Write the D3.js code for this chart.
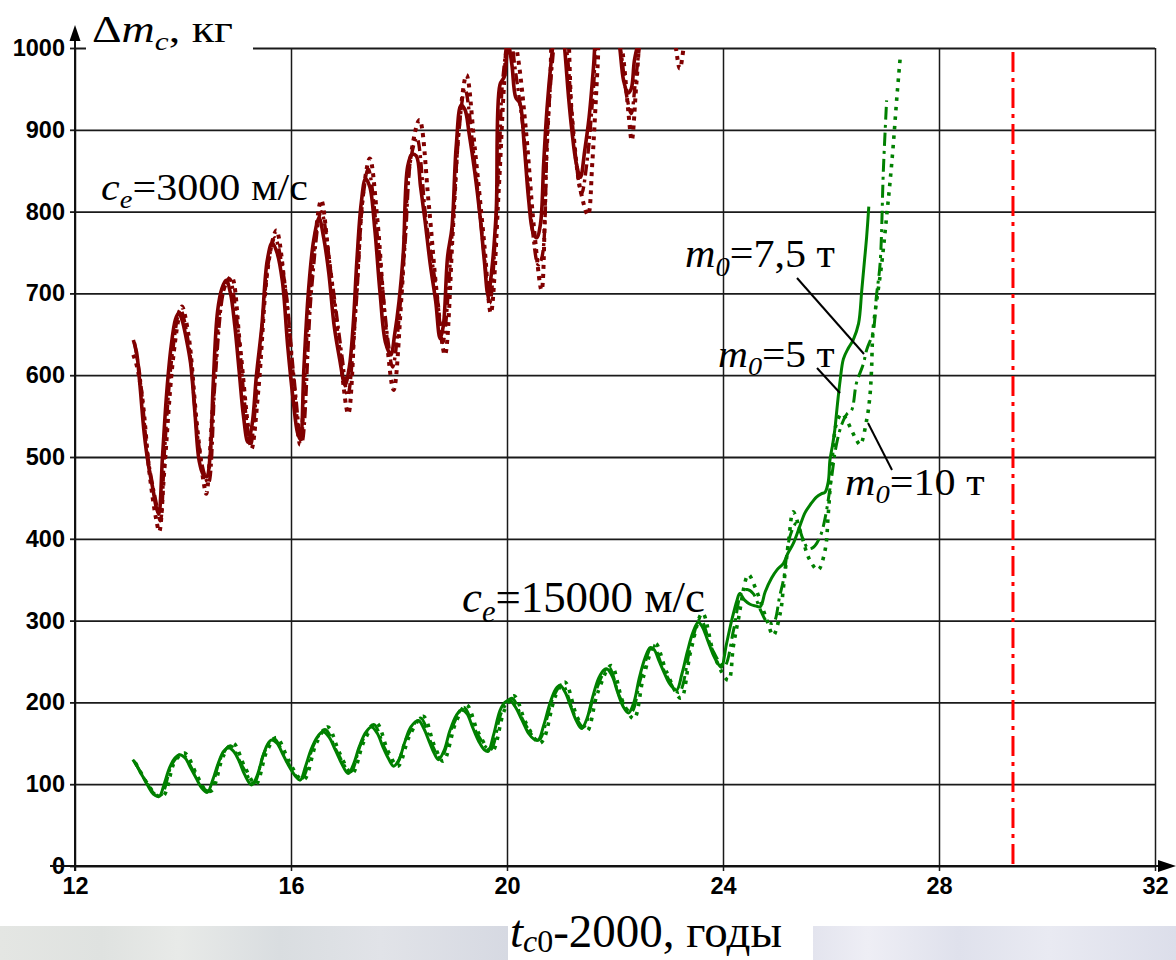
<!DOCTYPE html>
<html><head><meta charset="utf-8">
<script src="https://cdn.jsdelivr.net/npm/d3@7"></script>
<style>body{margin:0;background:#fff}svg{display:block}</style>
</head><body>
<svg id="c" width="1176" height="960"></svg>
<script>
// ---------- data ----------
const xTicks = [12, 16, 20, 24, 28, 32];
const yTicks = [0, 100, 200, 300, 400, 500, 600, 700, 800, 900, 1000];
const limitYear = 29.37;

// c_e = 3000 m/s, m0 = 5 t (solid)
const red5 = [[13.08,643],[13.14,628],[13.2,590],[13.28,530],[13.36,490],[13.44,462],[13.5,440],[13.55,430],[13.62,500],[13.7,580],[13.78,635],[13.86,668],[13.92,676],[13.98,668],[14.06,645],[14.14,615],[14.22,555],[14.3,495],[14.38,478],[14.44,476],[14.5,500],[14.56,590],[14.64,678],[14.72,706],[14.8,716],[14.88,700],[14.96,660],[15.04,605],[15.12,550],[15.2,518],[15.28,540],[15.36,600],[15.46,660],[15.56,740],[15.65,762],[15.74,750],[15.84,715],[15.94,635],[16.04,570],[16.12,530],[16.17,522],[16.24,610],[16.32,700],[16.42,765],[16.52,792],[16.6,770],[16.7,725],[16.8,660],[16.9,620],[17.0,588],[17.08,610],[17.15,660],[17.22,740],[17.3,810],[17.38,840],[17.46,830],[17.55,780],[17.65,700],[17.75,640],[17.85,625],[17.92,650],[18.0,690],[18.08,750],[18.16,855],[18.24,870],[18.32,868],[18.4,830],[18.48,790],[18.58,735],[18.68,690],[18.76,645],[18.82,660],[18.9,745],[18.98,780],[19.06,880],[19.15,930],[19.22,925],[19.3,895],[19.4,850],[19.5,795],[19.58,740],[19.65,698],[19.72,730],[19.8,800],[19.87,955],[19.95,965],[20.02,1005],[20.09,980],[20.16,940],[20.24,932],[20.32,880],[20.4,815],[20.48,775],[20.55,768],[20.62,785],[20.68,860],[20.74,925],[20.82,985],[20.9,1030],[20.98,1050],[21.06,1005],[21.14,940],[21.2,900],[21.28,860],[21.36,842],[21.44,875],[21.52,915],[21.6,975],[21.66,1030],[21.8,1080],[21.95,1060],[22.08,1005],[22.16,960],[22.24,945],[22.3,950],[22.36,985],[22.44,1010],[22.52,1040]];
// c_e = 3000 m/s, m0 = 7.5 t (dash-dot)
const red75 = [[13.1,640],[13.2,600],[13.35,500],[13.5,445],[13.58,422],[13.66,510],[13.8,625],[13.95,680],[14.1,640],[14.28,520],[14.4,478],[14.47,468],[14.6,600],[14.76,705],[14.86,718],[15.0,665],[15.15,560],[15.25,515],[15.4,610],[15.6,745],[15.7,768],[15.88,715],[16.05,600],[16.2,518],[16.38,705],[16.56,800],[16.75,720],[16.95,620],[17.05,575],[17.2,680],[17.33,815],[17.43,852],[17.6,770],[17.8,640],[17.88,610],[18.1,750],[18.22,865],[18.33,890],[18.5,790],[18.7,700],[18.81,640],[19.0,790],[19.12,905],[19.22,950],[19.4,860],[19.58,745],[19.68,688],[19.85,860],[19.92,960],[20.05,1020],[20.15,975],[20.3,900],[20.45,790],[20.58,735],[20.65,745],[20.75,900],[20.85,990],[20.95,1050],[21.1,1000],[21.25,880],[21.38,822],[21.48,860],[21.6,950],[21.7,1040],[21.9,1070],[22.1,1000],[22.22,940],[22.3,920],[22.38,960],[22.47,1010],[22.55,1040]];
// c_e = 3000 m/s, m0 = 10 t (dotted)
const red10 = [[13.08,625],[13.15,610],[13.25,570],[13.38,480],[13.5,425],[13.56,409],[13.65,480],[13.8,610],[13.92,670],[13.98,684],[14.1,650],[14.25,545],[14.38,470],[14.43,455],[14.55,560],[14.7,690],[14.82,715],[14.9,720],[15.05,640],[15.2,540],[15.27,510],[15.4,585],[15.55,720],[15.66,765],[15.73,777],[15.9,700],[16.05,590],[16.17,515],[16.3,660],[16.45,770],[16.56,814],[16.7,745],[16.9,630],[17.06,553],[17.2,690],[17.35,830],[17.46,865],[17.6,790],[17.75,660],[17.9,582],[18.05,700],[18.2,860],[18.38,912],[18.55,810],[18.7,700],[18.85,625],[19.0,780],[19.12,910],[19.25,967],[19.4,880],[19.58,760],[19.7,676],[19.85,830],[19.95,960],[20.05,1040],[20.2,990],[20.35,900],[20.5,780],[20.64,704],[20.72,850],[20.8,960],[20.88,1040],[21.05,1060],[21.2,920],[21.35,830],[21.5,796],[21.58,860],[21.68,980],[21.75,1060],[21.95,1080],[22.15,990],[22.25,920],[22.31,887],[22.4,960],[22.5,1030],[22.8,1090],[23.1,1010],[23.2,975],[23.27,1000],[23.35,1040]];

// c_e = 15000 m/s, m0 = 5 t (solid)
const green5 = [[13.07,130],[13.15,122],[13.25,110],[13.35,98],[13.45,88],[13.56,85],[13.65,100],[13.75,120],[13.85,132],[13.94,136],[14.04,132],[14.14,120],[14.24,108],[14.34,96],[14.45,90],[14.55,105],[14.65,125],[14.75,140],[14.84,145],[14.94,140],[15.04,128],[15.14,112],[15.27,99],[15.37,110],[15.47,132],[15.56,148],[15.64,154],[15.74,150],[15.86,135],[15.98,120],[16.08,110],[16.17,105],[16.27,122],[16.37,142],[16.48,157],[16.59,164],[16.7,158],[16.82,142],[16.94,125],[17.06,113],[17.16,125],[17.26,145],[17.38,163],[17.49,170],[17.6,162],[17.7,146],[17.8,132],[17.9,122],[18.0,130],[18.1,150],[18.22,170],[18.36,178],[18.46,168],[18.56,152],[18.65,138],[18.73,130],[18.84,142],[18.94,165],[19.06,184],[19.16,191],[19.26,186],[19.36,170],[19.48,152],[19.58,142],[19.65,140],[19.75,160],[19.87,190],[19.96,200],[20.05,203],[20.15,195],[20.28,178],[20.4,162],[20.5,155],[20.58,154],[20.68,172],[20.8,200],[20.9,216],[20.98,221],[21.08,212],[21.18,195],[21.28,178],[21.38,168],[21.48,180],[21.58,205],[21.7,230],[21.8,240],[21.85,241],[21.95,232],[22.05,212],[22.15,195],[22.25,187],[22.35,200],[22.45,230],[22.56,255],[22.65,267],[22.72,265],[22.82,250],[22.92,235],[23.02,222],[23.14,215],[23.24,235],[23.34,262],[23.44,285],[23.54,298],[23.62,292],[23.72,275],[23.82,258],[23.9,248],[23.97,243],[24.06,270],[24.16,300],[24.26,325],[24.31,333],[24.4,325],[24.5,320],[24.6,318],[24.69,317],[24.78,335],[24.9,352],[25.0,362],[25.12,370],[25.2,382],[25.3,394],[25.42,415],[25.52,432],[25.62,442],[25.73,451],[25.82,455],[25.89,457],[25.95,470],[25.98,496],[26.03,515],[26.07,533],[26.12,565],[26.17,594],[26.23,620],[26.32,633],[26.41,643],[26.51,663],[26.57,704],[26.62,740],[26.66,769],[26.7,806]];
// c_e = 15000 m/s, m0 = 7.5 t (dash-dot)
const green75 = [[13.1,128],[13.3,105],[13.48,88],[13.6,87],[13.8,125],[13.98,137],[14.2,115],[14.38,95],[14.49,92],[14.7,132],[14.88,147],[15.1,122],[15.31,101],[15.5,138],[15.68,156],[15.9,132],[16.1,110],[16.21,107],[16.42,148],[16.63,167],[16.85,140],[17.1,115],[17.3,150],[17.53,173],[17.75,142],[17.94,124],[18.15,158],[18.4,181],[18.6,150],[18.77,132],[19.0,172],[19.2,194],[19.42,165],[19.69,142],[19.9,188],[20.09,205],[20.3,178],[20.55,154],[20.62,156],[20.85,205],[21.02,222],[21.25,185],[21.42,170],[21.62,210],[21.88,243],[22.1,205],[22.3,188],[22.48,230],[22.7,270],[22.9,240],[23.18,212],[23.4,268],[23.58,302],[23.8,265],[24.02,244],[24.2,290],[24.35,335],[24.45,338],[24.56,333],[24.7,312],[24.81,299],[24.93,297],[25.05,330],[25.12,350],[25.24,403],[25.36,419],[25.48,400],[25.58,388],[25.68,390],[25.8,403],[25.89,425],[26.0,470],[26.1,515],[26.2,540],[26.3,553],[26.38,557],[26.47,590],[26.6,614],[26.66,631],[26.78,653],[26.84,696],[26.91,737],[26.97,851],[27.03,936]];
// c_e = 15000 m/s, m0 = 10 t (dotted)
const green10 = [[13.12,126],[13.35,100],[13.52,86],[13.64,86],[13.85,128],[14.03,138],[14.25,112],[14.42,93],[14.53,92],[14.75,135],[14.93,150],[15.15,120],[15.35,100],[15.55,140],[15.73,157],[15.95,130],[16.15,108],[16.25,106],[16.47,150],[16.68,170],[16.9,138],[17.13,113],[17.35,152],[17.58,175],[17.8,140],[17.98,122],[18.2,160],[18.45,183],[18.65,148],[18.82,128],[19.05,175],[19.25,197],[19.47,163],[19.72,140],[19.95,190],[20.13,208],[20.35,175],[20.6,150],[20.68,155],[20.9,208],[21.07,225],[21.3,182],[21.48,165],[21.68,212],[21.93,245],[22.15,200],[22.35,180],[22.53,232],[22.75,272],[22.95,238],[23.22,205],[23.4,262],[23.62,309],[23.85,255],[24.1,227],[24.19,268],[24.28,300],[24.47,356],[24.6,340],[24.81,301],[24.93,282],[25.06,309],[25.12,341],[25.22,400],[25.3,433],[25.45,405],[25.6,375],[25.76,362],[25.89,386],[25.95,431],[26.04,512],[26.1,541],[26.2,553],[26.29,545],[26.38,533],[26.47,521],[26.54,515],[26.66,545],[26.72,574],[26.75,606],[26.78,655],[26.94,737],[27.03,794],[27.09,834],[27.15,879],[27.22,940],[27.28,987]];

// ---------- drawing ----------
const svg = d3.select("#c");
const L = 75, R = 1155, T = 48, B = 866;
const x = d3.scaleLinear().domain([12, 32]).range([L, R]);
const y = d3.scaleLinear().domain([0, 1000]).range([B, T]);

// bottom textured band
const defs = svg.append("defs");
const g1 = defs.append("linearGradient").attr("id", "bandL");
[["0%","#e4e6e3"],["20%","#dfe2e0"],["35%","#e8eae8"],["55%","#d9dde0"],["75%","#e1e3e8"],["100%","#d6d9e2"]]
  .forEach(s => g1.append("stop").attr("offset", s[0]).attr("stop-color", s[1]));
const g2 = defs.append("linearGradient").attr("id", "bandR");
[["0%","#e3e4ee"],["15%","#eeeef5"],["40%","#dfe1ec"],["65%","#e9eaf2"],["100%","#dcdeea"]]
  .forEach(s => g2.append("stop").attr("offset", s[0]).attr("stop-color", s[1]));
svg.append("rect").attr("x", 0).attr("y", 926).attr("width", 508).attr("height", 34).attr("fill", "url(#bandL)");
svg.append("rect").attr("x", 813).attr("y", 926).attr("width", 363).attr("height", 34).attr("fill", "url(#bandR)");

defs.append("clipPath").attr("id", "plot").append("rect")
  .attr("x", L).attr("y", T).attr("width", R - L).attr("height", B - T);

// grid
const gridY = svg.append("g").attr("transform", `translate(${L},0)`)
  .call(d3.axisLeft(y).tickValues(yTicks).tickSize(-(R - L)).tickFormat(""));
gridY.select(".domain").remove();
gridY.selectAll("line").attr("stroke", "#1a1a1a").attr("stroke-width", 1.8);
const gridX = svg.append("g").attr("transform", `translate(0,${B})`)
  .call(d3.axisBottom(x).tickValues(xTicks).tickSize(-(B - T)).tickFormat(""));
gridX.select(".domain").remove();
gridX.selectAll("line").attr("stroke", "#1a1a1a").attr("stroke-width", 1.5);

// tick labels
const yAx = svg.append("g").attr("transform", `translate(${L},0)`)
  .call(d3.axisLeft(y).tickValues(yTicks).tickSize(5).tickPadding(5).tickFormat(d3.format("d")));
yAx.select(".domain").remove();
yAx.selectAll("line").attr("stroke", "#1a1a1a").attr("stroke-width", 1.8);
yAx.selectAll("text").attr("font-family", "Liberation Sans, Arial, sans-serif")
  .attr("font-weight", "bold").attr("font-size", 23.5).attr("fill", "#000");
const xAx = svg.append("g").attr("transform", `translate(0,${B})`)
  .call(d3.axisBottom(x).tickValues(xTicks).tickSize(5).tickPadding(6).tickFormat(d3.format("d")));
xAx.select(".domain").remove();
xAx.selectAll("line").attr("stroke", "#1a1a1a").attr("stroke-width", 1.5);
xAx.selectAll("text").attr("font-family", "Liberation Sans, Arial, sans-serif")
  .attr("font-weight", "bold").attr("font-size", 23.5).attr("fill", "#000");

// axes lines with arrows
svg.append("line").attr("x1", L).attr("x2", L).attr("y1", B + 5).attr("y2", 40)
  .attr("stroke", "#111").attr("stroke-width", 2);
svg.append("path").attr("d", `M${L},25 L${L - 5.5},41 L${L + 5.5},41 Z`).attr("fill", "#000");
svg.append("line").attr("x1", 50).attr("x2", 1160).attr("y1", B).attr("y2", B)
  .attr("stroke", "#111").attr("stroke-width", 2);
svg.append("path").attr("d", `M1176,${B} L1158,${B - 6} L1158,${B + 6} Z`).attr("fill", "#000");

// red launch-limit line
svg.append("line").attr("x1", x(limitYear)).attr("x2", x(limitYear)).attr("y1", y(995)).attr("y2", B)
  .attr("stroke", "#ff0000").attr("stroke-width", 3).attr("stroke-dasharray", "20,6,4,6");

// curves
const line = d3.line().x(d => x(d[0])).y(d => y(d[1])).curve(d3.curveCatmullRom.alpha(0.5));
const series = [
  {data: red10, color: "#800000", dash: "4,5", w: 4},
  {data: red75, color: "#800000", dash: "11,4,3,4", w: 3.4},
  {data: red5, color: "#800000", dash: null, w: 3.6},
  {data: green10, color: "#008000", dash: "3.5,6", w: 3.6},
  {data: green75, color: "#008000", dash: "13,5,3,5", w: 3},
  {data: green5, color: "#008000", dash: null, w: 3}
];
const cg = svg.append("g").attr("clip-path", "url(#plot)");
series.forEach(s => {
  cg.append("path").attr("d", line(s.data)).attr("fill", "none")
    .attr("stroke", s.color).attr("stroke-width", s.w)
    .attr("stroke-dasharray", s.dash).attr("stroke-linejoin", "round");
});

// title box for y axis
svg.append("rect").attr("x", 86).attr("y", 8).attr("width", 167).attr("height", 46).attr("fill", "#fff");

// serif labels with sub-scripts; width fitted to the reference
function label(x0, yb, fs, target, parts, subK) {
  const k = subK === undefined ? 0.22 : subK;
  const t = svg.append("text").attr("x", x0).attr("y", yb)
    .attr("font-family", "Liberation Serif, Times New Roman, serif").attr("font-size", fs).attr("fill", "#000");
  let shift = 0;
  parts.forEach(p => {
    const ts = t.append("tspan").text(p.t);
    if (p.i) ts.attr("font-style", "italic");
    const want = p.sub ? Math.round(fs * k) : 0;
    if (want !== shift) { ts.attr("dy", want - shift); shift = want; }
    if (p.sub) ts.attr("font-size", fs * 0.68);
  });
  const bb = t.node().getBBox();
  const s = target / bb.width;
  t.attr("transform", `translate(${x0},0) scale(${s},1) translate(${-x0},0)`);
  return t;
}
label(92, 42, 37, 141, [{t: "Δ"}, {t: "m", i: 1}, {t: "c", i: 1, sub: 1}, {t: ", кг"}]);
label(101, 200, 38, 207, [{t: "c", i: 1}, {t: "e", i: 1, sub: 1}, {t: "=3000 м/с"}]);
label(462, 612, 45, 243, [{t: "c", i: 1}, {t: "e", i: 1, sub: 1}, {t: "=15000 м/с"}]);
label(685, 267, 39, 150, [{t: "m", i: 1}, {t: "0", i: 1, sub: 1}, {t: "=7,5 т"}]);
label(718, 367, 38, 117, [{t: "m", i: 1}, {t: "0", i: 1, sub: 1}, {t: "=5 т"}]);
label(845, 495, 38, 140, [{t: "m", i: 1}, {t: "0", i: 1, sub: 1}, {t: "=10 т"}]);
label(510, 947, 46, 272, [{t: "t", i: 1}, {t: "c", i: 1, sub: 1}, {t: "0", sub: 1}, {t: "-2000, годы"}], 0.1);

// leader lines
[[797, 278, 864, 354], [817, 368, 840, 393], [868, 423, 892, 470]].forEach(l => {
  svg.append("line").attr("x1", l[0]).attr("y1", l[1]).attr("x2", l[2]).attr("y2", l[3])
    .attr("stroke", "#000").attr("stroke-width", 2);
});
</script>
</body></html>
